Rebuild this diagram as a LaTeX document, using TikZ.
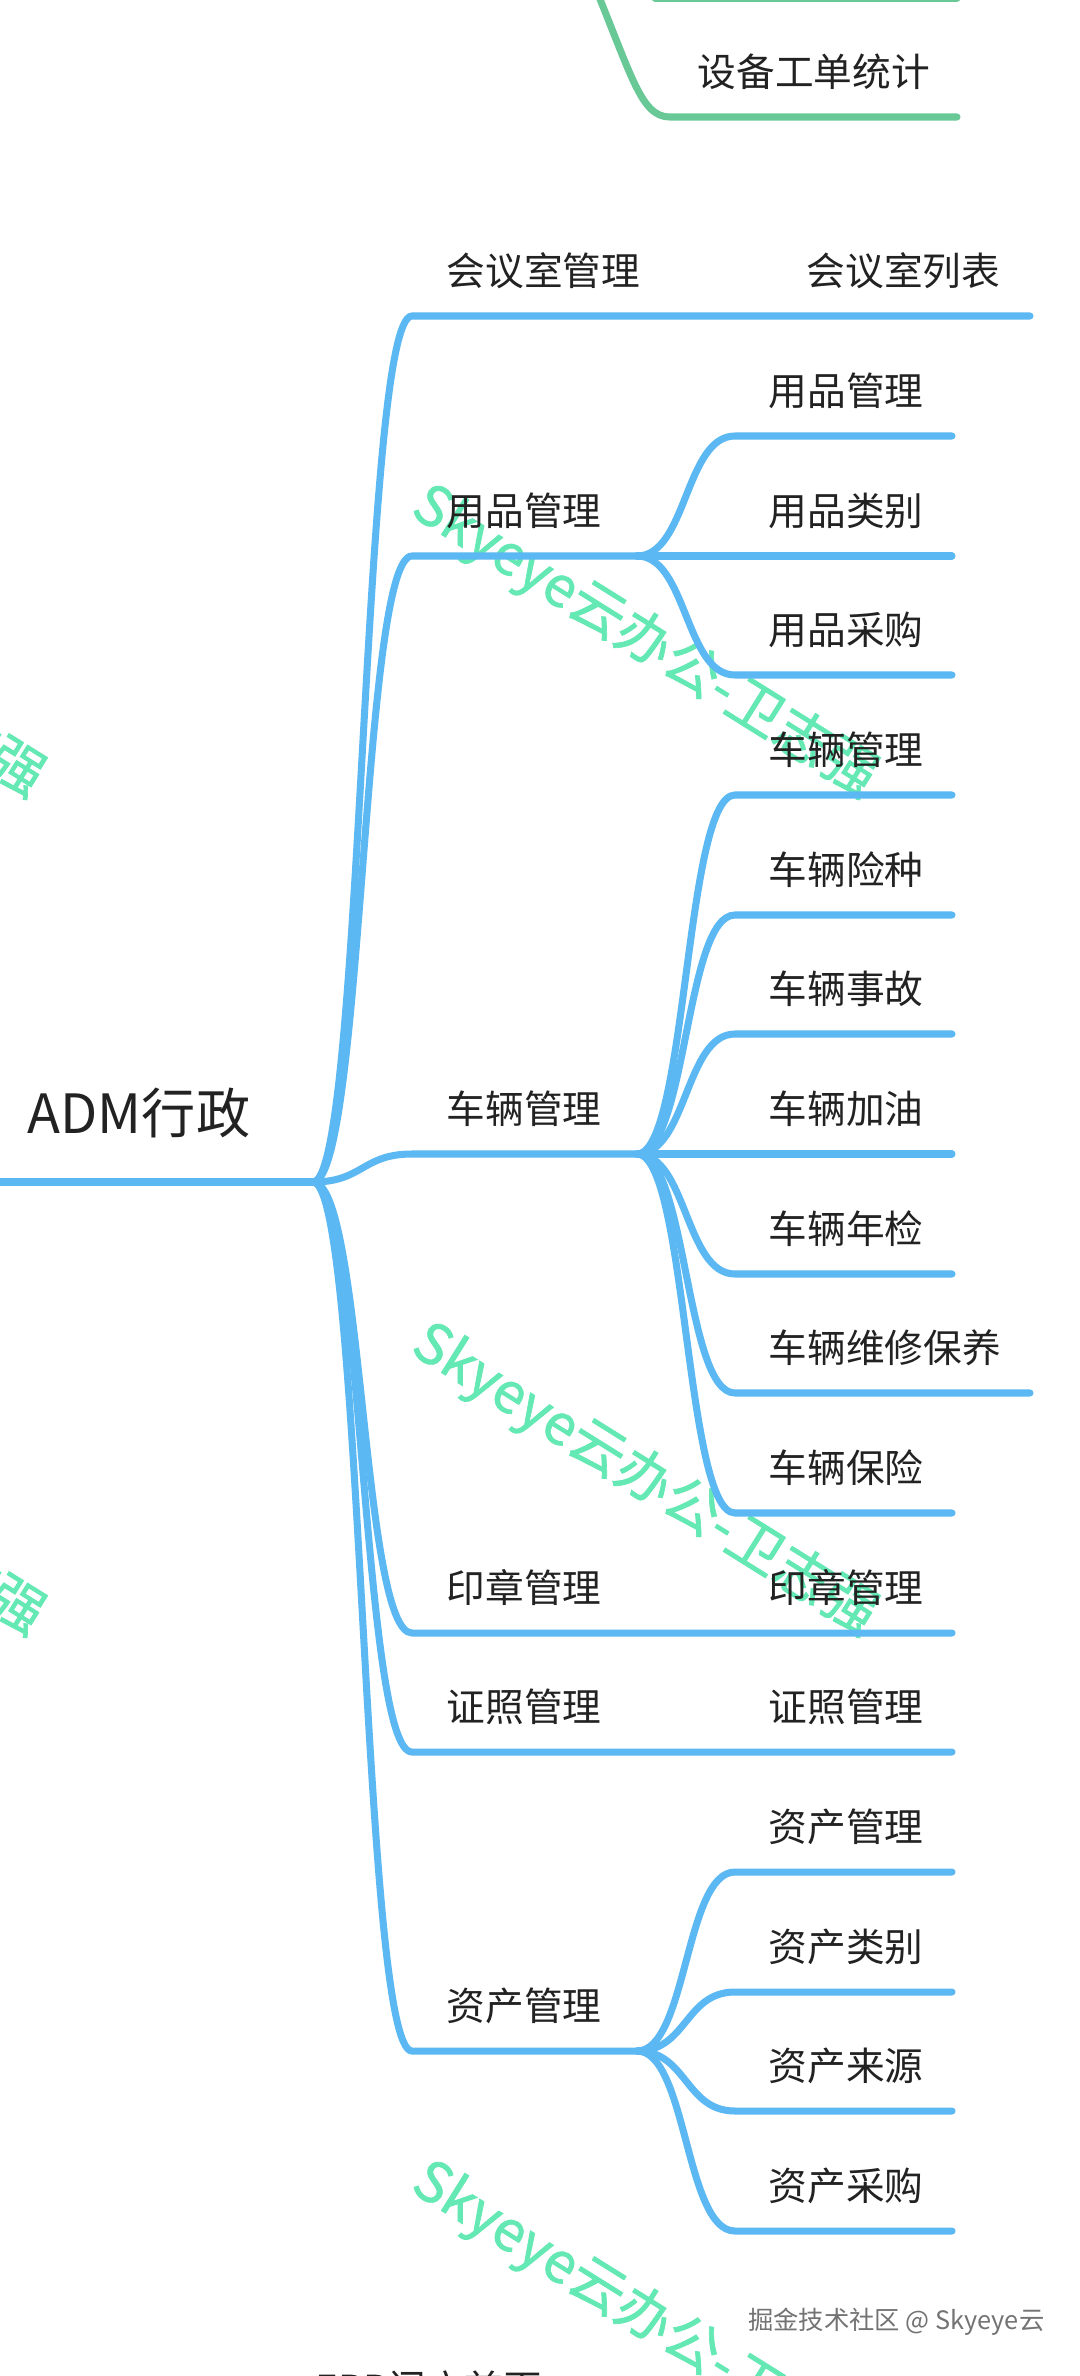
\documentclass[tikz,border=0pt]{standalone}
\usepackage{fontspec}
\newfontfamily\cjk{Noto Sans CJK SC}
\newfontfamily\cjkmark[FakeBold=1.2]{Noto Sans CJK SC}
\definecolor{mapblue}{RGB}{92,184,242}
\definecolor{mapgreen}{RGB}{104,200,150}
\definecolor{markgreen}{RGB}{100,232,180}
\definecolor{inkgray}{RGB}{34,34,34}
\tikzset{
  branch/.style={line width=2pt, draw=mapblue, line cap=round},
  twig/.style={line width=2pt, draw=mapgreen, line cap=round},
  rootlabel/.style={anchor=west, inner sep=0pt, text=inkgray, font=\cjk\fontsize{15.4}{18}\selectfont},
  toplabel/.style={anchor=west, inner sep=0pt, text=inkgray, font=\cjk\fontsize{11}{13}\selectfont},
  sublabel/.style={toplabel},
  wmark/.style={inner sep=0pt, text=markgreen, rotate=-32, font=\cjkmark\fontsize{15.8}{18}\selectfont},
  sitemark/.style={anchor=east, inner sep=0pt, text=black!55, font=\cjk\fontsize{7.2}{9}\selectfont},
}

\begin{document}
\begin{tikzpicture}[x=0.01cm, y=-0.01cm]
  \useasboundingbox (0,0) rectangle (1080,2376);
  \clip (0,0) rectangle (1080,2376);
  \fill[white] (0,0) rectangle (1080,2376);

  % watermark, repeated over the page
  \foreach \wx/\wy [count=\i] in {645/642, 645/1480, 645/2318, -188/642, -188/1480}
    \node[wmark] (wm\i) at (\wx,\wy) {Skyeye云办公-卫志强};

  % tail of the green map above
  \coordinate (sa-s) at (655,-2);
  \coordinate (sa-e) at (957,-2);
  \coordinate (sb-top) at (588,-30);
  \coordinate (sb-s) at (670,117);
  \coordinate (sb-e) at (957,117);
  \draw[twig] (sa-s) -- (sa-e);
  \draw[twig] (sb-top) .. controls +(44,105) and +(-30,0) .. (sb-s) -- (sb-e);
  \node[sublabel] (sb) at (697,72) {设备工单统计};

  % root
  \coordinate (root-l) at (-10,1182);
  \coordinate (root-j) at (313,1182);
  \draw[branch] (root-l) -- (root-j);
  \node[rootlabel] (adm) at (27,1113) {ADM行政};

  % 会议室管理: one child on the same row
  \coordinate (hys-s) at (412,316);
  \coordinate (hys-j) at (675,316);
  \coordinate (hys-e) at (1030,316);
  \draw[branch] (root-j) .. controls +(50,0) and +(-50,0) .. (hys-s) -- (hys-j) -- (hys-e);
  \node[toplabel] (hys) at (446,271) {会议室管理};
  \node[sublabel] (hys-1) at (806,271) {会议室列表};

  % 用品管理
  \coordinate (yp-s) at (412,556);
  \coordinate (yp-j) at (637,556);
  \draw[branch] (root-j) .. controls +(50,0) and +(-50,0) .. (yp-s) -- (yp-j);
  \node[toplabel] (yp) at (446,511) {用品管理};
  \foreach \txt/\y [count=\i] in {用品管理/436, 用品类别/556, 用品采购/675} {
    \coordinate (yp-s\i) at (735,\y);
    \coordinate (yp-e\i) at (952,\y);
    \draw[branch] (yp-j) .. controls +(50,0) and +(-50,0) .. (yp-s\i) -- (yp-e\i);
    \node[sublabel] (yp-\i) at (768,\y-45) {\txt};
  }

  % 车辆管理
  \coordinate (cl-s) at (412,1154);
  \coordinate (cl-j) at (637,1154);
  \draw[branch] (root-j) .. controls +(50,0) and +(-50,0) .. (cl-s) -- (cl-j);
  \node[toplabel] (cl) at (446,1109) {车辆管理};
  \foreach \txt/\y/\xe [count=\i] in {车辆管理/795/952, 车辆险种/915/952, 车辆事故/1034/952,
      车辆加油/1154/952, 车辆年检/1274/952, 车辆维修保养/1393/1030, 车辆保险/1513/952} {
    \coordinate (cl-s\i) at (735,\y);
    \coordinate (cl-e\i) at (\xe,\y);
    \draw[branch] (cl-j) .. controls +(50,0) and +(-50,0) .. (cl-s\i) -- (cl-e\i);
    \node[sublabel] (cl-\i) at (768,\y-45) {\txt};
  }

  % 印章管理, 证照管理: one child each
  \foreach \n/\txt/\y in {yz/印章管理/1633, zz/证照管理/1752} {
    \coordinate (\n-s) at (412,\y);
    \coordinate (\n-e) at (952,\y);
    \draw[branch] (root-j) .. controls +(50,0) and +(-50,0) .. (\n-s) -- (\n-e);
    \node[toplabel] (\n) at (446,\y-45) {\txt};
    \node[sublabel] (\n-1) at (768,\y-45) {\txt};
  }

  % 资产管理
  \coordinate (zc-s) at (412,2051);
  \coordinate (zc-j) at (637,2051);
  \draw[branch] (root-j) .. controls +(50,0) and +(-50,0) .. (zc-s) -- (zc-j);
  \node[toplabel] (zc) at (446,2006) {资产管理};
  \foreach \txt/\y [count=\i] in {资产管理/1872, 资产类别/1992, 资产来源/2111, 资产采购/2231} {
    \coordinate (zc-s\i) at (735,\y);
    \coordinate (zc-e\i) at (952,\y);
    \draw[branch] (zc-j) .. controls +(50,0) and +(-50,0) .. (zc-s\i) -- (zc-e\i);
    \node[sublabel] (zc-\i) at (768,\y-45) {\txt};
  }

  % next map, cut by the page edge
  \node[toplabel] (erp) at (315,2389) {ERP门户首页};
  \node[sitemark] (jj) at (1045,2322) {掘金技术社区 @ Skyeye云};
\end{tikzpicture}
\end{document}
